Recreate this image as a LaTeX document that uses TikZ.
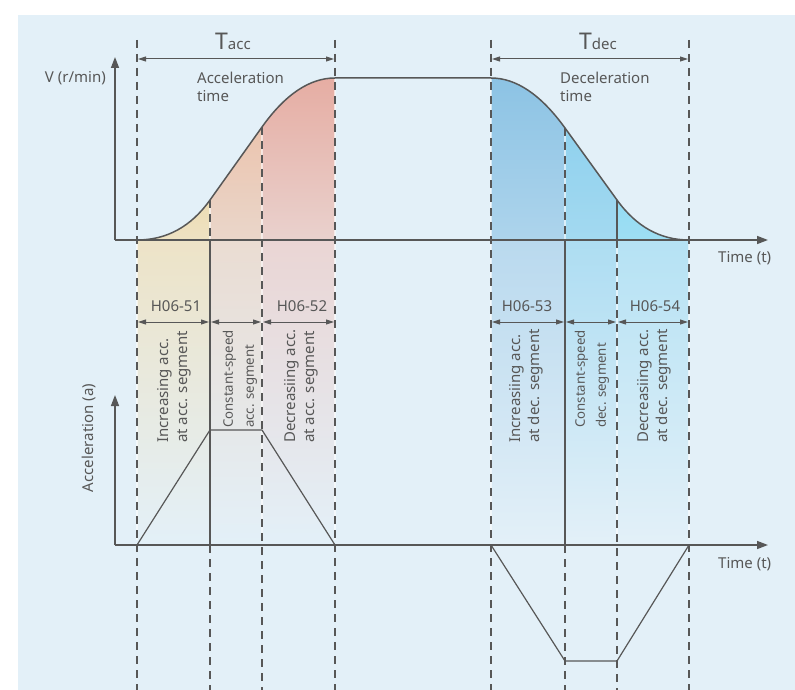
\documentclass[tikz,border=0pt]{standalone}
\usepackage{fontspec}
\setmainfont{Noto Sans}
\usetikzlibrary{arrows.meta}
\definecolor{bg}{HTML}{E3F0F8}
\definecolor{ink}{HTML}{575757}
\definecolor{aa}{HTML}{EDDBB1}
\definecolor{ab}{HTML}{EEE2C3}
\definecolor{ba}{HTML}{EBC4AE}
\definecolor{bb}{HTML}{EAD6CA}
\definecolor{ca}{HTML}{E6ADA3}
\definecolor{cb}{HTML}{E9D1CD}
\definecolor{al}{HTML}{EDE3C7}
\definecolor{bl}{HTML}{EADCD2}
\definecolor{cl}{HTML}{EAD5D4}
\definecolor{da}{HTML}{8CC3E4}
\definecolor{db}{HTML}{ADD4EC}
\definecolor{ea}{HTML}{8FD1EE}
\definecolor{eb}{HTML}{A3D9F0}
\definecolor{fa}{HTML}{93DBF3}
\definecolor{fb}{HTML}{9EDEF3}
\definecolor{dl}{HTML}{B9D9EE}
\definecolor{el}{HTML}{ADDDF2}
\definecolor{fl}{HTML}{B5E2F4}
\begin{document}
\begin{tikzpicture}[x=1pt,y=-1pt,
  ax/.style={draw=ink, line width=1.5pt, -{Triangle[length=11pt,width=8pt]}},
  dim/.style={draw=ink, line width=1pt, shorten <=1pt, shorten >=1pt, {Triangle[length=8pt,width=5pt]}-{Triangle[length=8pt,width=5pt]}},
  guide/.style={draw=ink, line width=1.4pt, dash pattern=on 8pt off 6pt},
  solidguide/.style={draw=ink, line width=1.2pt},
  sep/.style={draw=white, line width=2pt, opacity=0.6},
  curve/.style={draw=ink, line width=1.5pt},
  lbl/.style={text=ink, font=\fontsize{15}{18}\selectfont, inner sep=0pt},
  vlbl/.style={text=ink, inner sep=0pt, rotate=90, anchor=west, align=left, font=\fontsize{15}{19}\selectfont},
  vsmall/.style={vlbl, font=\fontsize{13.2}{21}\selectfont}
]
\useasboundingbox (0,0) rectangle (795,690);
\fill[white] (0,0) rectangle (795,690);
\fill[bg] (18,15) rectangle (795,690);

% key points
\coordinate (O1) at (115,240);
\coordinate (O2) at (115,545);
\coordinate (Vtop) at (115,57);
\coordinate (Vend) at (768,240);
\coordinate (Atop) at (115,395);
\coordinate (Aend) at (768,545);

% acceleration fills (velocity curve)
\begin{scope}
\clip (137,240) .. controls (166.6,240) and (191,226.7) .. (210,200) -- (262,127)
      .. controls (285.3,94.3) and (309.7,78) .. (335,78) -- (335,240) -- cycle;
\shade[top color=aa, bottom color=ab] (137,195) rectangle (210,240);
\shade[top color=ba, bottom color=bb] (210,125) rectangle (262,240);
\shade[top color=ca, bottom color=cb] (262,78) rectangle (335,240);
\end{scope}
\shade[top color=al, bottom color=bg] (137,240) rectangle (210,545);
\shade[top color=bl, bottom color=bg] (210,240) rectangle (262,545);
\shade[top color=cl, bottom color=bg] (262,240) rectangle (335,545);

% deceleration fills
\begin{scope}
\clip (491,78) .. controls (516.3,78) and (540.9,94.7) .. (565,128) -- (617,200)
      .. controls (636.3,226.7) and (660.3,240) .. (689,240) -- (491,240) -- cycle;
\shade[top color=da, bottom color=db] (491,78) rectangle (565,240);
\shade[top color=ea, bottom color=eb] (565,125) rectangle (617,240);
\shade[top color=fa, bottom color=fb] (617,195) rectangle (689,240);
\end{scope}
\shade[top color=dl, bottom color=bg] (491,240) rectangle (565,545);
\shade[top color=el, bottom color=bg] (565,240) rectangle (617,545);
\shade[top color=fl, bottom color=bg] (617,240) rectangle (689,545);

% white separators
\foreach \x/\y in {137/240,210/200,262/127,335/78,491/78,565/128,617/200,689/240}
  \draw[sep] (\x,\y) -- (\x,540);

% guide lines
\foreach \x in {137,335,491,689}
  \draw[guide] (\x,40) -- (\x,690);
\draw[guide] (210,200) -- (210,240);
\draw[solidguide] (210,240) -- (210,545);
\draw[guide] (210,545) -- (210,690);
\draw[guide] (262,127) -- (262,690);
\draw[guide] (565,128) -- (565,240);
\draw[solidguide] (565,240) -- (565,545);
\draw[guide] (565,545) -- (565,690);
\draw[solidguide] (617,200) -- (617,240);
\draw[guide] (617,240) -- (617,690);

% velocity curve
\draw[curve] (137,240) .. controls (166.6,240) and (191,226.7) .. (210,200) -- (262,127)
      .. controls (285.3,94.3) and (309.7,78) .. (335,78) -- (491,78)
      .. controls (516.3,78) and (540.9,94.7) .. (565,128) -- (617,200)
      .. controls (636.3,226.7) and (660.3,240) .. (689,240);

% acceleration profile
\draw[draw=ink, line width=1.2pt] (137,545) -- (210,430) -- (262,430) -- (335,545);
\draw[draw=ink, line width=1.2pt] (491,545) -- (565,661) -- (617,661) -- (689,545);

% axes
\draw[ax] (O1) -- (Vtop);
\draw[ax] (O1) -- (Vend);
\draw[ax] (O2) -- (Atop);
\draw[ax] (O2) -- (Aend);

% dimension arrows
\draw[dim] (137,59) -- (335,59);
\draw[dim] (491,59) -- (689,59);
\draw[dim] (137,322) -- (210,322);
\draw[dim] (210,322) -- (262,322);
\draw[dim] (262,322) -- (335,322);
\draw[dim] (491,322) -- (565,322);
\draw[dim] (565,322) -- (617,322);
\draw[dim] (617,322) -- (689,322);

% labels
\node[lbl, anchor=base] (tacc) at (233,50) {{\fontsize{23}{23}\selectfont T}{\fontsize{15}{15}\selectfont acc}};
\node[lbl, anchor=base] (tdec) at (598,50) {{\fontsize{23}{23}\selectfont T}{\fontsize{15}{15}\selectfont dec}};
\node[lbl, anchor=north west, align=left] (acct) at (197,72) {Acceleration\\time};
\node[lbl, anchor=north west, align=left] (dect) at (560,72) {Deceleration\\time};
\node[lbl, anchor=base east] (vlab) at (106,83) {V (r/min)};
\node[lbl, anchor=base west] (t1) at (718,262) {Time (t)};
\node[lbl, anchor=base west] (t2) at (718,568) {Time (t)};
\node[lbl, rotate=90] (alab) at (89,438) {Acceleration (a)};

\node[lbl, anchor=base] (h51) at (176,311) {H06-51};
\node[lbl, anchor=base] (h52) at (302,311) {H06-52};
\node[lbl, anchor=base] (h53) at (527,311) {H06-53};
\node[lbl, anchor=base] (h54) at (655,311) {H06-54};

\node[vlbl] (s1) at (174,443) {Increasing acc.\\at acc. segment};
\node[vsmall] (s2) at (240,428) {Constant-speed\\acc. segment};
\node[vlbl] (s3) at (301,443) {Decreasiing acc.\\at acc. segment};
\node[vlbl] (s4) at (526,443) {Increasiing acc.\\at dec. segment};
\node[vsmall] (s5) at (592,428) {Constant-speed\\dec. segment};
\node[vlbl] (s6) at (654,443) {Decreasiing acc.\\at dec. segment};
\end{tikzpicture}
\end{document}
